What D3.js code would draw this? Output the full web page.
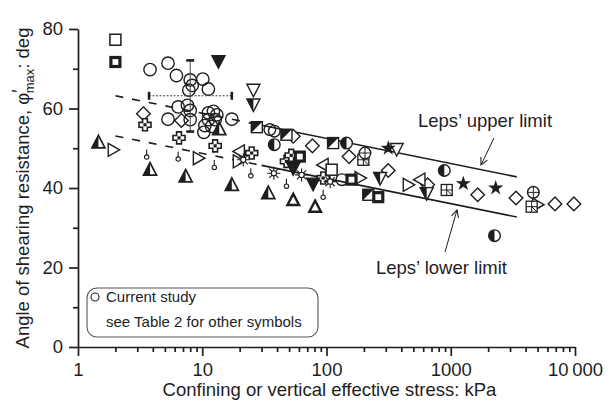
<!DOCTYPE html>
<html>
<head>
<meta charset="utf-8">
<script src="https://cdn.jsdelivr.net/npm/d3@7/dist/d3.min.js"></script>
<style>
  html, body { margin: 0; padding: 0; background: #fff; }
  svg { display: block; font-family: "Liberation Sans", Arial, Helvetica, sans-serif; }
</style>
</head>
<body>
<svg id="chart" width="610" height="408"></svg>
<script>
// ---- data: [effective stress (kPa), peak friction angle (deg)] ----
const currentStudy = [
  [3.8, 69.8], [5.3, 71.4], [6.2, 68.3], [8.0, 67.2], [8.3, 65.8], [7.8, 64.6],
  [10.1, 67.4], [11.2, 64.9], [6.4, 60.4], [7.6, 60.8], [8.0, 59.5], [5.3, 57.3],
  [8.0, 57.2], [11.2, 58.9], [12.3, 59.3], [13.1, 58.4], [11.2, 57.2], [12.7, 57.2],
  [10.5, 55.7], [11.9, 55.5], [10.3, 54.0], [17.3, 57.3]
];
const currentMean = [8, 63.2];
const currentStressRange = [3.73, 17.3];
const currentAngleRange = [54.2, 72.1];

const openCircles = [[35, 54.7], [38, 54.3], [133, 42.1]];
const openSquares = [[2, 77.3], [110, 44.6]];
const boldSquares = [[2, 71.7], [61, 47.9], [159, 42.1], [261, 37.7]];
const halfSquares = [[27.5, 55.3], [47.6, 53.4], [113, 51.3], [217, 38.3]];
const gridSquares = [[198, 47.1], [928, 39.5], [4480, 35.3]];
const crossCircles = [[204, 48.8], [4620, 38.9]];
const halfCircles = [[38, 50.9], [145, 51.3], [887, 44.4], [2250, 28.0]];
const diamonds = [
  [3.36, 58.7], [6.8, 57.0], [54, 53.0], [77, 50.6], [152, 47.9], [314, 44.4],
  [652, 40.8], [1648, 38.3], [3350, 37.5], [6900, 36.0], [9800, 36.0]
];
const crosses = [[3.46, 55.9], [6.5, 52.6], [12.7, 50.6], [25, 48.8], [47.6, 46.7], [52, 48.2], [94, 42.5]];
const smallRings = [[3.57, 48.4], [6.4, 47.9], [12.5, 45.8], [24.6, 43.7], [47.6, 41.1], [94, 38.3]];
const halfUpTriangles = [[1.46, 51.5], [3.8, 44.6], [7.35, 42.9], [17.3, 40.8], [34, 38.7], [13.7, 54.8]];
const boldUpTriangles = [[54, 37.0], [81, 35.3]];
const rightTriangles = [[1.92, 49.6], [9.3, 47.5], [19.5, 46.7], [186, 42.5], [455, 40.8], [5000, 35.8]];
const leftTriangles = [[19.9, 49.2], [94, 45.8], [565, 42.1]];
const openDownTriangles = [[25.8, 64.7], [367, 49.8]];
const filledDownTriangles = [[13.5, 71.9], [54, 45.0], [78, 41.1]];
const halfDownTriangles = [[25.8, 61.0], [270, 42.5], [640, 38.7]];
const stars = [[314, 50.0], [1262, 41.1], [2300, 40.0]];
const bursts = [[21.4, 47.1], [37.7, 43.7], [63, 43.3], [107, 41.6]];

// Leps' bounds (dashed where extended to low stresses)
const lepsUpperDashed = [[2, 63.2], [30, 55.8]];
const lepsUpperSolid = [[30, 55.8], [3400, 42.8]];
const lepsLowerDashed = [[2, 53.1], [30, 45.7]];
const lepsLowerSolid = [[30, 45.7], [3400, 32.7]];

const xMajorTicks = [1, 10, 100, 1000, 10000];
const xTickLabels = ["1", "10", "100", "1000", "10\u2009000"];
const yMajorTicks = [0, 20, 40, 60, 80];
const yMinorTicks = [10, 30, 50, 70];

// ---- layout ----
const svg = d3.select("#chart");
const x = d3.scaleLog().domain([1, 10000]).range([78, 575]);
const y = d3.scaleLinear().domain([0, 80]).range([347, 29]);
const ink = "#1e1e1e";

const xMinorTicks = [];
for (let d = 1; d < 10000; d *= 10) for (let k = 2; k <= 9; k++) xMinorTicks.push(d * k);

// x axis
const gx = svg.append("g").attr("transform", `translate(0,${y(0)})`);
gx.call(d3.axisBottom(x).tickValues(xMinorTicks).tickSize(5).tickSizeOuter(0).tickFormat(""));
gx.call(g => g.selectAll(".domain").remove());
svg.append("g").attr("transform", `translate(0,${y(0)})`)
  .call(d3.axisBottom(x).tickValues(xMajorTicks).tickSize(9).tickSizeOuter(0).tickPadding(7)
    .tickFormat((d, i) => xTickLabels[i]));
// y axis
const gy = svg.append("g").attr("transform", `translate(${x(1)},0)`)
  .call(d3.axisLeft(y).tickValues(yMinorTicks).tickSize(5).tickSizeOuter(0).tickFormat(""));
gy.call(g => g.selectAll(".domain").remove());
svg.append("g").attr("transform", `translate(${x(1)},0)`)
  .call(d3.axisLeft(y).tickValues(yMajorTicks).tickSize(9).tickSizeOuter(0).tickPadding(6));

svg.selectAll(".domain, .tick line").attr("stroke", ink).attr("stroke-width", 1.7);
svg.selectAll(".tick text").attr("fill", ink).style("font-size", "18.5px")
  .style("font-family", "'Liberation Sans', Arial, sans-serif");

// axis titles
svg.append("text")
  .attr("x", (x.range()[0] + x.range()[1]) / 2 + 3).attr("y", 396)
  .attr("text-anchor", "middle").attr("fill", ink).style("font-size", "18.5px")
  .text("Confining or vertical effective stress: kPa");

const yTitle = svg.append("text")
  .attr("transform", `translate(29,${(y(0) + y(80)) / 2}) rotate(-90)`)
  .attr("text-anchor", "middle").attr("fill", ink).style("font-size", "18.5px");
yTitle.append("tspan").text("Angle of shearing resistance, \u03c6");
yTitle.append("tspan").text("\u2032").attr("dy", -4);
yTitle.append("tspan").text("max").style("font-size", "13px").attr("dy", 9).attr("dx", -4);
yTitle.append("tspan").text(": deg").attr("dy", -5);

// ---- Leps' limits ----
const line = d3.line().x(d => x(d[0])).y(d => y(d[1]));
const limits = svg.append("g").attr("fill", "none").attr("stroke", ink).attr("stroke-width", 1.6);
[lepsUpperDashed, lepsLowerDashed].forEach(d =>
  limits.append("path").attr("d", line(d)).attr("stroke-dasharray", "8,9"));
[lepsUpperSolid, lepsLowerSolid].forEach(d =>
  limits.append("path").attr("d", line(d)));

// ---- symbols ----
const sw = 1.4;
function tri(pts) { return "M" + pts.map(p => p.join(",")).join("L") + "Z"; }
const painters = {
  circle(g) { g.append("circle").attr("r", 5.8).attr("fill", "none").attr("stroke", ink).attr("stroke-width", sw); },
  sqOpen(g) { g.append("rect").attr("x", -5.5).attr("y", -5.5).attr("width", 11).attr("height", 11)
      .attr("fill", "white").attr("stroke", ink).attr("stroke-width", 1.5); },
  sqBold(g) { g.append("rect").attr("x", -4.5).attr("y", -4.5).attr("width", 9).attr("height", 9)
      .attr("fill", "white").attr("stroke", ink).attr("stroke-width", 3.2); },
  sqHalf(g) {
    g.append("rect").attr("x", -5.5).attr("y", -5.5).attr("width", 11).attr("height", 11)
      .attr("fill", "white").attr("stroke", ink).attr("stroke-width", 1.4);
    g.append("path").attr("d", tri([[-5.5, -5.5], [5.5, -5.5], [-5.5, 5.5]])).attr("fill", ink);
  },
  sqGrid(g) {
    g.append("rect").attr("x", -5.5).attr("y", -5.5).attr("width", 11).attr("height", 11)
      .attr("fill", "white").attr("stroke", ink).attr("stroke-width", 1.3);
    g.append("path").attr("d", "M0,-5.5V5.5M-5.5,0H5.5M0,0L5.5,5.5").attr("stroke", ink).attr("stroke-width", 1);
  },
  circlePlus(g) {
    g.append("circle").attr("r", 5.8).attr("fill", "white").attr("stroke", ink).attr("stroke-width", sw);
    g.append("path").attr("d", "M0,-5.8V5.8M-5.8,0H5.8").attr("stroke", ink).attr("stroke-width", 1);
  },
  circleHalf(g) {
    g.append("circle").attr("r", 5.8).attr("fill", "white").attr("stroke", ink).attr("stroke-width", sw);
    g.append("path").attr("d", "M0,-5.8A5.8,5.8 0 0 0 0,5.8Z").attr("fill", ink);
  },
  diamond(g) { g.append("path").attr("d", tri([[0, -6.8], [6.8, 0], [0, 6.8], [-6.8, 0]]))
      .attr("fill", "white").attr("stroke", ink).attr("stroke-width", sw); },
  cross(g) {
    const a = 2.4, b = 6;
    g.append("path").attr("d", tri([[-a, -b], [a, -b], [a, -a], [b, -a], [b, a], [a, a], [a, b], [-a, b], [-a, a], [-b, a], [-b, -a], [-a, -a]]))
      .attr("fill", "white").attr("stroke", ink).attr("stroke-width", 1.6);
    g.append("rect").attr("x", -1.6).attr("y", -1.6).attr("width", 3.2).attr("height", 3.2).attr("fill", ink);
  },
  ring(g) {
    g.append("circle").attr("cy", 2.5).attr("r", 2.2).attr("fill", "white").attr("stroke", ink).attr("stroke-width", 1.1);
    g.append("path").attr("d", "M0,0.3V-5").attr("stroke", ink).attr("stroke-width", 1.1);
  },
  triUpHalf(g) {
    g.append("path").attr("d", tri([[0, -7], [6.5, 5.5], [-6.5, 5.5]])).attr("fill", "white")
      .attr("stroke", ink).attr("stroke-width", 1.7).attr("stroke-linejoin", "miter");
    g.append("path").attr("d", tri([[0, -7], [0, 5.5], [-6.5, 5.5]])).attr("fill", ink);
  },
  triUpBold(g) { g.append("path").attr("d", tri([[0, -6], [5.8, 5], [-5.8, 5]])).attr("fill", "white")
      .attr("stroke", ink).attr("stroke-width", 2.4); },
  triRight(g) { g.append("path").attr("d", tri([[-5, -6.5], [6.5, 0], [-5, 6.5]])).attr("fill", "white")
      .attr("stroke", ink).attr("stroke-width", sw); },
  triLeft(g) { g.append("path").attr("d", tri([[5, -6.5], [-6.5, 0], [5, 6.5]])).attr("fill", "white")
      .attr("stroke", ink).attr("stroke-width", sw); },
  triDownOpen(g) { g.append("path").attr("d", tri([[-6.5, -5.5], [6.5, -5.5], [0, 7]])).attr("fill", "white")
      .attr("stroke", ink).attr("stroke-width", sw); },
  triDownFill(g) { g.append("path").attr("d", tri([[-6.5, -5.5], [6.5, -5.5], [0, 7]])).attr("fill", ink)
      .attr("stroke", ink).attr("stroke-width", sw); },
  triDownHalf(g) {
    g.append("path").attr("d", tri([[-6.5, -5.5], [6.5, -5.5], [0, 7]])).attr("fill", "white")
      .attr("stroke", ink).attr("stroke-width", sw);
    g.append("path").attr("d", tri([[-6.5, -5.5], [0, -5.5], [0, 7]])).attr("fill", ink);
  },
  star(g) { g.append("path").attr("d", d3.symbol(d3.symbolStar, 72)()).attr("fill", ink); },
  burst(g) {
    const spokes = d3.range(8).map(i => {
      const a = i * Math.PI / 4;
      return `M0,0L${(6.5 * Math.cos(a)).toFixed(2)},${(6.5 * Math.sin(a)).toFixed(2)}`;
    }).join("");
    g.append("path").attr("d", spokes).attr("stroke", ink).attr("stroke-width", 1.1);
    g.append("circle").attr("r", 2.6).attr("fill", "white").attr("stroke", ink).attr("stroke-width", 1.1);
  }
};

const layers = [
  [openCircles, "circle"], [diamonds, "diamond"], [crosses, "cross"], [smallRings, "ring"],
  [halfUpTriangles, "triUpHalf"], [boldUpTriangles, "triUpBold"], [rightTriangles, "triRight"],
  [leftTriangles, "triLeft"], [openDownTriangles, "triDownOpen"], [filledDownTriangles, "triDownFill"],
  [halfDownTriangles, "triDownHalf"], [bursts, "burst"], [gridSquares, "sqGrid"],
  [crossCircles, "circlePlus"], [halfCircles, "circleHalf"], [halfSquares, "sqHalf"],
  [openSquares, "sqOpen"], [boldSquares, "sqBold"], [stars, "star"]
];
const marks = svg.append("g");
layers.forEach(([data, type]) => {
  marks.append("g").selectAll("g").data(data).join("g")
    .attr("transform", d => `translate(${x(d[0])},${y(d[1])})`)
    .each(function () { painters[type](d3.select(this)); });
});

// current study: mean with ranges, then individual tests
const eb = svg.append("g").attr("stroke", "#444");
eb.append("line").attr("x1", x(currentStressRange[0])).attr("x2", x(currentStressRange[1]))
  .attr("y1", y(currentMean[1])).attr("y2", y(currentMean[1])).attr("stroke-width", 1).attr("stroke-dasharray", "2,1.5");
eb.append("line").attr("x1", x(currentMean[0])).attr("x2", x(currentMean[0]))
  .attr("y1", y(currentAngleRange[0])).attr("y2", y(currentAngleRange[1])).attr("stroke-width", 1);
currentStressRange.forEach(v => eb.append("line").attr("x1", x(v)).attr("x2", x(v))
  .attr("y1", y(currentMean[1]) - 4).attr("y2", y(currentMean[1]) + 4).attr("stroke", ink).attr("stroke-width", 2.6));
currentAngleRange.forEach(v => eb.append("line").attr("y1", y(v)).attr("y2", y(v))
  .attr("x1", x(currentMean[0]) - 4).attr("x2", x(currentMean[0]) + 4).attr("stroke", ink).attr("stroke-width", 2.6));

marks.append("g").selectAll("circle").data(currentStudy).join("circle")
  .attr("cx", d => x(d[0])).attr("cy", d => y(d[1])).attr("r", 6.2)
  .attr("fill", "none").attr("stroke", ink).attr("stroke-width", sw);

// ---- annotations ----
const defs = svg.append("defs");
defs.append("marker").attr("id", "arrow").attr("viewBox", "0 0 10 10").attr("refX", 9).attr("refY", 5)
  .attr("markerWidth", 9).attr("markerHeight", 9).attr("orient", "auto").attr("markerUnits", "userSpaceOnUse")
  .append("path").attr("d", "M1,1L9,5L1,9").attr("fill", "none").attr("stroke", ink).attr("stroke-width", 1.2);

svg.append("text").attr("x", 418).attr("y", 127).attr("fill", ink).style("font-size", "18.5px").text("Leps\u2019 upper limit");
svg.append("text").attr("x", 376).attr("y", 274).attr("fill", ink).style("font-size", "18.5px").text("Leps\u2019 lower limit");

svg.append("line").attr("x1", 494).attr("y1", 138).attr("x2", 481).attr("y2", 165)
  .attr("stroke", ink).attr("stroke-width", 1).attr("marker-end", "url(#arrow)");
svg.append("line").attr("x1", 445).attr("y1", 252).attr("x2", 457).attr("y2", 210)
  .attr("stroke", ink).attr("stroke-width", 1).attr("marker-end", "url(#arrow)");

// ---- legend ----
const lg = svg.append("g");
lg.append("rect").attr("x", 87).attr("y", 288).attr("width", 231).attr("height", 49).attr("rx", 10)
  .attr("fill", "white").attr("stroke", "#555").attr("stroke-width", 1.1);
lg.append("circle").attr("cx", 95).attr("cy", 297).attr("r", 4).attr("fill", "none").attr("stroke", ink).attr("stroke-width", 1.1);
lg.append("text").attr("x", 106).attr("y", 302).attr("fill", ink).style("font-size", "15px").text("Current study");
lg.append("text").attr("x", 106).attr("y", 327).attr("fill", ink).style("font-size", "15px").text("see Table 2 for other symbols");
</script>
</body>
</html>
